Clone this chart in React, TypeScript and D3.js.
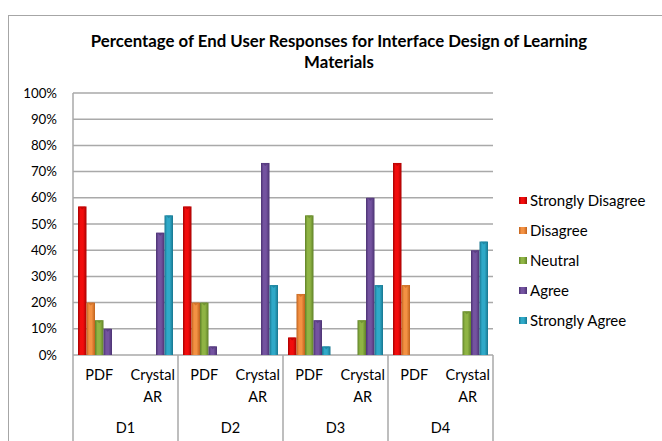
import React from "react";
import * as d3 from "d3";

// chart data
const groups = ["D1", "D2", "D3", "D4"];
const formats = ["PDF", "Crystal AR"];
const seriesNames = ["Strongly Disagree", "Disagree", "Neutral", "Agree", "Strongly Agree"];
const stronglyDisagree = [56.7, 0, 56.7, 0, 6.7, 0, 73.3, 0];
const disagree = [20, 0, 20, 0, 23.3, 0, 26.7, 0];
const neutral = [13.3, 0, 20, 0, 53.3, 13.3, 0, 16.7];
const agree = [10, 46.7, 3.3, 73.3, 13.3, 60, 0, 40];
const stronglyAgree = [0, 53.3, 0, 26.7, 3.3, 26.7, 0, 43.3];
const yTicks = [0, 10, 20, 30, 40, 50, 60, 70, 80, 90, 100];
const colors = ["#f20d0d", "#f39143", "#8fb444", "#7453a0", "#2fa9c8"];
const darkColors = ["#a80000", "#c0621c", "#5f8128", "#4b3272", "#17768f"];

const seriesValues = [stronglyDisagree, disagree, neutral, agree, stronglyAgree];
const FONT = "Lato, 'Open Sans', sans-serif";

const App = () => {
  const width = 662;
  const height = 441;
  const plot = { left: 73, right: 493, top: 93, bottom: 355 };

  const cats = d3.range(groups.length * formats.length);
  const x0 = d3.scaleBand<number>().domain(cats).range([plot.left, plot.right]);
  const x1 = d3
    .scaleBand<number>()
    .domain(d3.range(seriesNames.length))
    .range([5, x0.bandwidth() - 5]);
  const y = d3.scaleLinear().domain([0, 100]).range([plot.bottom, plot.top]);

  const groupW = x0.bandwidth() * formats.length;

  return (
    <svg
      width={width}
      height={height}
      style={{ position: "absolute", left: 0, top: 0, background: "#fff" }}
      fontFamily={FONT}
    >
      <defs>
        {colors.map((c, i) => (
          <linearGradient key={i} id={"bar" + i} x1="0" x2="1" y1="0" y2="0">
            <stop offset="0" stopColor={darkColors[i]} />
            <stop offset="0.3" stopColor={c} />
            <stop offset="0.6" stopColor={c} />
            <stop offset="1" stopColor={darkColors[i]} />
          </linearGradient>
        ))}
      </defs>

      {/* outer chart frame */}
      <rect x={8.5} y={15.5} width={660} height={440} fill="none" stroke="#a6a6a6" strokeWidth={1} />

      {/* title */}
      <text x={339} y={47} textAnchor="middle" fontSize={16.8} fontWeight="bold" fill="#000">
        Percentage of End User Responses for Interface Design of Learning
      </text>
      <text x={339} y={68} textAnchor="middle" fontSize={16.8} fontWeight="bold" fill="#000">
        Materials
      </text>

      {/* gridlines */}
      {yTicks.map(t => (
        <line
          key={t}
          x1={plot.left}
          x2={plot.right}
          y1={y(t)}
          y2={y(t)}
          stroke="#a9a9a9"
          strokeWidth={1.5}
        />
      ))}
      {yTicks.map(t => (
        <text
          key={"l" + t}
          x={57}
          y={y(t) + 4.5}
          textAnchor="end"
          fontSize={13.3}
          fill="#000"
        >
          {t + "%"}
        </text>
      ))}

      {/* left axis and group separators */}
      <line x1={plot.left} x2={plot.left} y1={plot.top} y2={plot.bottom} stroke="#a9a9a9" strokeWidth={1.5} />
      {d3.range(groups.length + 1).map(g => (
        <line
          key={"s" + g}
          x1={plot.left + g * groupW}
          x2={plot.left + g * groupW}
          y1={plot.bottom}
          y2={height}
          stroke="#a9a9a9"
          strokeWidth={1.5}
        />
      ))}

      {/* bars */}
      {seriesValues.map((vals, s) =>
        vals.map((v, c) => {
          if (v <= 0) return null;
          const bx = (x0(c) as number) + (x1(s) as number);
          const bw = x1.bandwidth();
          const by = y(v);
          return (
            <g key={s + "-" + c}>
              <rect x={bx} y={by} width={bw} height={y(0) - by} fill={`url(#bar${s})`} />
              <path
                d={`M${bx + 1},${by} L${bx + bw - 1},${by} L${bx + bw / 2},${by + 3} Z`}
                fill={darkColors[s]}
                opacity={0.6}
              />
            </g>
          );
        })
      )}

      {/* category labels */}
      {cats.map(c => {
        const cx = (x0(c) as number) + x0.bandwidth() / 2;
        const label = formats[c % formats.length];
        const parts = label.split(" ");
        return (
          <text key={"c" + c} textAnchor="middle" fontSize={14.5} fill="#000">
            {parts.map((p, i) => (
              <tspan key={i} x={cx + (c % 2 === 1 ? 1 : 0)} y={380 + i * 22}>
                {p}
              </tspan>
            ))}
          </text>
        );
      })}
      {groups.map((g, i) => (
        <text
          key={g}
          x={plot.left + i * groupW + groupW / 2}
          y={433}
          textAnchor="middle"
          fontSize={14.5}
          fill="#000"
        >
          {g}
        </text>
      ))}

      {/* legend */}
      {seriesNames.map((n, i) => {
        const ly = 201 + i * 30;
        return (
          <g key={n}>
            <rect x={519} y={ly - 4} width={8} height={7} fill={`url(#bar${i})`} />
            <text x={530} y={ly + 5} fontSize={15} fill="#000">
              {n}
            </text>
          </g>
        );
      })}
    </svg>
  );
};

export default App;
